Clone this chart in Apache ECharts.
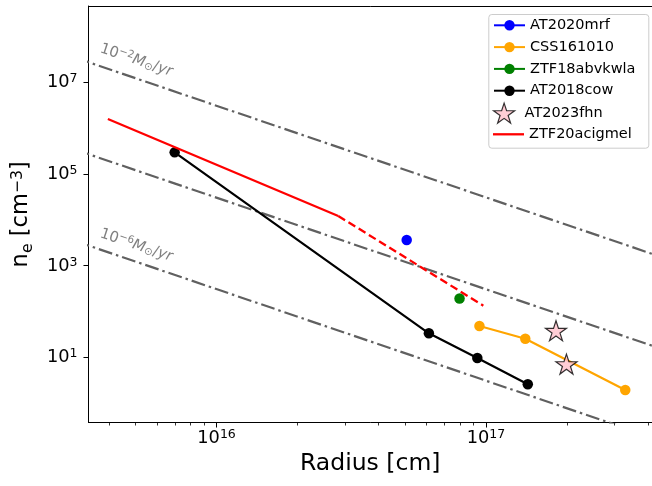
<!DOCTYPE html>
<html>
<head>
<meta charset="utf-8">
<script src="https://cdn.jsdelivr.net/npm/echarts@6.0.0/dist/echarts.min.js"></script>
<style>
html,body{margin:0;padding:0;background:#ffffff;}
#chart{width:652px;height:486px;}
</style>
</head>
<body>
<div id="chart"></div>
<script>
// ---------------- data ----------------
const xMajorTicks = [1e16, 1e17];
const xMinorTicks = [4e15,5e15,6e15,7e15,8e15,9e15,2e16,3e16,4e16,5e16,6e16,7e16,8e16,9e16,2e17,3e17,4e17];
const yTicks = [1e1, 1e3, 1e5, 1e7];

const at2020mrfR = [5.08e16];
const at2020mrfN = [3.6e3];

const css161010R = [9.46e16, 1.40e17, 3.29e17];
const css161010N = [47.5, 25.1, 1.9];

const ztf18abvkwlaR = [7.98e16];
const ztf18abvkwlaN = [190];

const at2018cowR = [6.99e15, 6.14e16, 9.29e16, 1.43e17];
const at2018cowN = [2.94e5, 32.9, 9.5, 2.54];

const at2023fhnR = [1.82e17, 1.99e17];
const at2023fhnN = [37.5, 7.0];

const ztf20SolidR = [3.95e15, 2.83e16];
const ztf20SolidN = [1.57e6, 1.2e4];
const ztf20DashR = [2.83e16, 9.78e16];
const ztf20DashN = [1.2e4, 132];

const windR = [3.0e15, 4.5e17];
const windMdot2N = [3.4e7, 1.51e3];
const windMdot4N = [3.34e5, 14.9];
const windMdot6N = [3.37e3, 0.15];

const windLabelR = [3.71e15, 3.71e15];
const windLabelN = [5.6e7, 5.1e3];
const windLabelExp = ['\u22122', '\u22126'];

const seriesNames = ['AT2020mrf', 'CSS161010', 'ZTF18abvkwla', 'AT2018cow', 'AT2023fhn', 'ZTF20acigmel'];

// ---------------- helpers ----------------
const pts = (xs, ys) => xs.map((x, i) => [x, ys[i]]);
const FONT = 'DejaVu Sans';
const STAR = 'path://M50,0 L61.23,34.55 L97.55,34.55 L68.17,55.9 L79.39,90.45 L50,69.1 L20.61,90.45 L31.83,55.9 L2.45,34.55 L38.77,34.55 Z';

const tickRich = {
  b: {fontSize: 17.8, fontFamily: FONT, color: '#000', lineHeight: 19, verticalAlign: 'bottom', padding: [3, 0, 0, 0]},
  s: {fontSize: 12.5, fontFamily: FONT, color: '#000', lineHeight: 13, verticalAlign: 'top'}
};
const powLabel = v => '{b|10}{s|' + Math.round(Math.log10(v)) + '}';

const X_MIN = 3.3464e15, X_MAX = 4.1347e17;
const Y_MIN = 0.3713, Y_MAX = 4.611e8;

const GRAY = '#606060';
function windSeries(name, ys) {
  return {
    name: name, type: 'line', data: pts(windR, ys), symbol: 'none', silent: true,
    lineStyle: {color: GRAY, width: 2.2, type: [14, 4, 2.5, 4]}, z: 1
  };
}
function dotSeries(name, xs, ys, color) {
  return {
    name: name, type: 'line', data: pts(xs, ys), symbol: 'circle', symbolSize: 10.5,
    showAllSymbol: true,
    itemStyle: {color: color}, lineStyle: {color: color, width: 2.2}, z: 2
  };
}

const chart = echarts.init(document.getElementById('chart'), null, {renderer: 'canvas'});

const labelRich = {
  n: {fontSize: 14.8, fontFamily: FONT, color: GRAY, lineHeight: 16, verticalAlign: 'bottom', padding: [3, 0, 0, 0]},
  m: {fontSize: 14.8, fontFamily: FONT, fontStyle: 'italic', color: GRAY, lineHeight: 16, verticalAlign: 'bottom', padding: [3, 0, 0, 0]},
  s: {fontSize: 10.4, fontFamily: FONT, color: GRAY, lineHeight: 11, verticalAlign: 'top'},
  o: {fontSize: 10.4, fontFamily: FONT, color: GRAY, lineHeight: 11, verticalAlign: 'bottom', padding: [10, 0, 0, 0]}
};

const option = {
  animation: false,
  backgroundColor: '#ffffff',
  textStyle: {fontFamily: FONT},
  grid: {left: 88, top: 6, width: 569, height: 416.5, containLabel: false},
  graphic: [{
    type: 'rect', left: 488.3, top: 14, z: 3,
    shape: {width: 160, height: 133.7, r: 3},
    style: {fill: 'rgba(255,255,255,0.8)', stroke: '#cccccc', lineWidth: 1}
  }],
  legend: [
    {
      data: seriesNames.slice(0, 4), orient: 'vertical', left: 493, top: 17.3, padding: 0,
      itemWidth: 31, itemHeight: 13, itemGap: 5.8, textGap: 11, selectedMode: false, z: 5,
      textStyle: {fontSize: 14.5, color: '#000', lineHeight: 16, fontFamily: FONT}
    },
    {
      data: [seriesNames[4]], orient: 'vertical', left: 493, top: 102.5, padding: 0,
      itemWidth: 31, itemHeight: 20, textGap: 11, selectedMode: false, z: 5,
      itemStyle: {color: 'pink', borderColor: '#000', borderWidth: 1.2},
      textStyle: {fontSize: 14.5, color: '#000', lineHeight: 16, fontFamily: FONT}
    },
    {
      data: [{name: seriesNames[5], icon: 'rect'}], orient: 'vertical', left: 493, top: 126.3, padding: 0,
      itemWidth: 31, itemHeight: 2.3, textGap: 11, selectedMode: false, z: 5,
      itemStyle: {color: '#ff0000', borderWidth: 0},
      textStyle: {fontSize: 14.5, color: '#000', lineHeight: 16, fontFamily: FONT}
    }
  ],
  xAxis: [
    {
      type: 'log', logBase: 10, min: X_MIN, max: X_MAX, position: 'bottom',
      name: 'Radius [cm]', nameLocation: 'middle', nameGap: 25.5,
      nameTextStyle: {fontSize: 23.5, color: '#000', fontFamily: FONT},
      axisLine: {show: true, lineStyle: {color: '#000', width: 1}},
      axisTick: {show: true, length: 5, lineStyle: {color: '#000', width: 1}, customValues: xMajorTicks},
      axisLabel: {show: true, margin: 5.6, customValues: xMajorTicks, formatter: powLabel, rich: tickRich},
      splitLine: {show: false}, minorTick: {show: false}
    },
    {
      type: 'log', logBase: 10, min: X_MIN, max: X_MAX, position: 'bottom',
      axisLine: {show: false},
      axisTick: {show: true, length: 3, lineStyle: {color: '#000', width: 0.8}, customValues: xMinorTicks},
      axisLabel: {show: false},
      splitLine: {show: false}
    },
    {
      type: 'log', logBase: 10, min: X_MIN, max: X_MAX, position: 'top',
      axisLine: {show: true, lineStyle: {color: '#000', width: 1}},
      axisTick: {show: false}, axisLabel: {show: false}, splitLine: {show: false}
    }
  ],
  yAxis: [{
    type: 'log', logBase: 10, min: Y_MIN, max: Y_MAX,
    name: '{a|n}{e|e}{a| [cm}{s|\u22123}{a|]}', nameLocation: 'middle', nameGap: 46, nameRotate: 90,
    nameTextStyle: {
      fontSize: 22.5, color: '#000', fontFamily: FONT,
      rich: {
        a: {fontSize: 22.5, fontFamily: FONT, color: '#000', lineHeight: 26, verticalAlign: 'top'},
        e: {fontSize: 15.8, fontFamily: FONT, color: '#000', lineHeight: 16, verticalAlign: 'bottom', padding: [12, 0, 0, 0]},
        s: {fontSize: 15.8, fontFamily: FONT, color: '#000', lineHeight: 16, verticalAlign: 'top'}
      }
    },
    axisLine: {show: true, lineStyle: {color: '#000', width: 1}},
    axisTick: {show: true, length: 5, lineStyle: {color: '#000', width: 1}, customValues: yTicks},
    axisLabel: {show: true, margin: 11, customValues: yTicks, formatter: powLabel, rich: tickRich},
    splitLine: {show: false}, minorTick: {show: false}
  }],
  series: [
    windSeries('wind-2', windMdot2N),
    windSeries('wind-4', windMdot4N),
    windSeries('wind-6', windMdot6N),
    {
      name: 'wind-labels', type: 'scatter', silent: true, symbolSize: 0, z: 2,
      data: windLabelR.map((r, i) => ({
        value: [r, windLabelN[i]],
        label: {formatter: '{n|10}{s|' + windLabelExp[i] + '}{m|M}{o|\u2299}{n|/}{m|yr}'}
      })),
      label: {show: true, position: 'inside', align: 'left', verticalAlign: 'middle', rotate: -18.4, rich: labelRich}
    },
    dotSeries(seriesNames[0], at2020mrfR, at2020mrfN, '#0000ff'),
    dotSeries(seriesNames[1], css161010R, css161010N, '#ffa500'),
    dotSeries(seriesNames[2], ztf18abvkwlaR, ztf18abvkwlaN, '#008000'),
    dotSeries(seriesNames[3], at2018cowR, at2018cowN, '#000000'),
    {
      name: seriesNames[4], type: 'scatter', data: pts(at2023fhnR, at2023fhnN),
      symbol: STAR, symbolSize: 21, symbolKeepAspect: true, z: 3,
      itemStyle: {color: 'pink', borderColor: '#000', borderWidth: 1.2}
    },
    {
      name: seriesNames[5], type: 'line', data: pts(ztf20SolidR, ztf20SolidN), symbol: 'none', z: 3,
      itemStyle: {color: '#ff0000'}, lineStyle: {color: '#ff0000', width: 2.3}
    },
    {
      name: 'ZTF20acigmel-extrapolated', type: 'line', data: pts(ztf20DashR, ztf20DashN), symbol: 'none', z: 3,
      itemStyle: {color: '#ff0000'}, lineStyle: {color: '#ff0000', width: 2.3, type: [8, 4]}
    }
  ]
};
chart.setOption(option);
</script>
</body>
</html>
